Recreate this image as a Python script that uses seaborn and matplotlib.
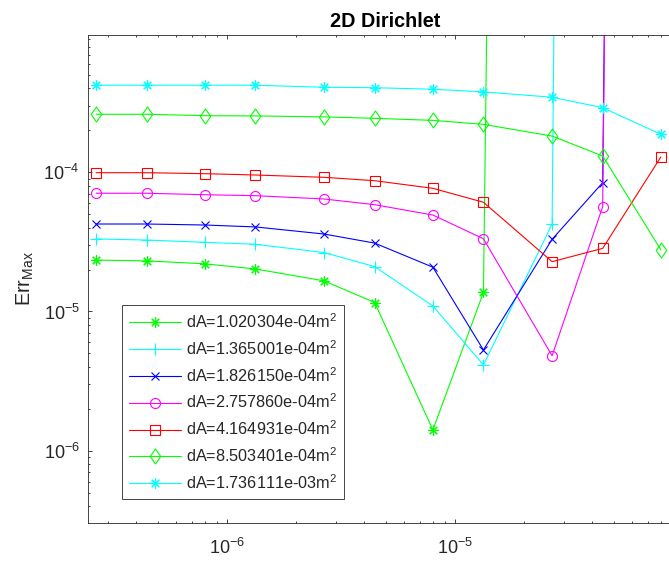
import numpy as np
import pandas as pd
import matplotlib
matplotlib.use("Agg")
import matplotlib.pyplot as plt
from matplotlib.path import Path
from matplotlib.ticker import LogLocator, NullFormatter, FixedLocator
import seaborn as sns

# Time step sizes (s)
dt = [2.667e-7, 4.444e-7, 8.0e-7, 1.333e-6, 2.667e-6, 4.444e-6,
      8.0e-6, 1.333e-5, 2.667e-5, 4.444e-5, 8.0e-5]

# Value recorded once a run has blown up
diverged = 1e35

# Maximum error per mesh size (runs stop after divergence)
err_1 = [2.34e-5, 2.31e-5, 2.20e-5, 2.02e-5, 1.66e-5, 1.16e-5, 1.41e-6, 1.37e-5, diverged]
err_2 = [3.32e-5, 3.26e-5, 3.14e-5, 3.04e-5, 2.65e-5, 2.10e-5, 1.095e-5, 4.13e-6, 4.25e-5, diverged]
err_3 = [4.25e-5, 4.25e-5, 4.18e-5, 4.05e-5, 3.60e-5, 3.10e-5, 2.08e-5, 5.29e-6, 3.30e-5, 8.42e-5, diverged]
err_4 = [7.07e-5, 7.07e-5, 6.90e-5, 6.79e-5, 6.43e-5, 5.85e-5, 4.93e-5, 3.33e-5, 4.81e-6, 5.66e-5, diverged]
err_5 = [9.93e-5, 9.93e-5, 9.77e-5, 9.56e-5, 9.20e-5, 8.70e-5, 7.67e-5, 6.09e-5, 2.28e-5, 2.84e-5, 1.29e-4]
err_6 = [2.61e-4, 2.61e-4, 2.55e-4, 2.54e-4, 2.50e-4, 2.44e-4, 2.36e-4, 2.21e-4, 1.82e-4, 1.31e-4, 2.77e-5]
err_7 = [4.22e-4, 4.22e-4, 4.22e-4, 4.22e-4, 4.08e-4, 4.05e-4, 3.95e-4, 3.78e-4, 3.46e-4, 2.91e-4, 1.875e-4]

labels = [
    "dA=1.020304e-04m$^2$",
    "dA=1.365001e-04m$^2$",
    "dA=1.826150e-04m$^2$",
    "dA=2.757860e-04m$^2$",
    "dA=4.164931e-04m$^2$",
    "dA=8.503401e-04m$^2$",
    "dA=1.736111e-03m$^2$",
]
series = [err_1, err_2, err_3, err_4, err_5, err_6, err_7]

colors = ["#00ff00", "#00ffff", "#0000ff", "#ff00ff", "#ff0000", "#00ff00", "#00ffff"]
diamond = Path([(0, 1), (0.7, 0), (0, -1), (-0.7, 0), (0, 1)],
               [Path.MOVETO, Path.LINETO, Path.LINETO, Path.LINETO, Path.CLOSEPOLY])
markers = [(8, 2, 0), "+", "x", "o", "s", diamond, (8, 2, 0)]
msizes = [7.5, 8.0, 5.6, 7.2, 6.6, 10.8, 7.5]

sns.set_style("ticks")
ink = "#262626"
plt.rcParams.update({
    "font.family": ["Liberation Sans", "DejaVu Sans"],
    "mathtext.fontset": "custom",
    "mathtext.rm": "Liberation Sans",
    "mathtext.it": "Liberation Sans:italic",
    "mathtext.bf": "Liberation Sans:bold",
    "mathtext.default": "regular",
    "axes.unicode_minus": False,
})

fig = plt.figure(figsize=(6.69, 5.65), dpi=100)
ax = fig.add_axes([0.1315, 0.0749, 0.8894, 0.8632])
ax.set_xscale("log")
ax.set_yscale("log")

for err, lab, c, m, ms in zip(series, labels, colors, markers, msizes):
    df = pd.DataFrame({"dt": dt[:len(err)], "err": err})
    sns.lineplot(data=df, x="dt", y="err", ax=ax, color=c, marker=m,
                 markersize=ms, markeredgecolor=c, markerfacecolor="none",
                 markeredgewidth=0.8, linewidth=0.8, label=lab,
                 estimator=None, sort=False)

ax.set_xlim(2.457e-7, 1e-4)
ax.set_ylim(3.04e-7, 9.69e-4)

ax.xaxis.set_major_locator(FixedLocator([1e-6, 1e-5]))
ax.xaxis.set_minor_locator(LogLocator(base=10, subs=np.arange(2, 10)))
ax.yaxis.set_major_locator(LogLocator(base=10, numticks=10))
ax.yaxis.set_minor_locator(LogLocator(base=10, subs=np.arange(2, 10), numticks=20))
ax.xaxis.set_minor_formatter(NullFormatter())
ax.yaxis.set_minor_formatter(NullFormatter())

ax.tick_params(which="both", direction="in", top=True, right=True,
               color=ink, width=0.6, labelcolor=ink, labelsize=13)
ax.tick_params(axis="y", which="major", pad=6)
ax.tick_params(axis="x", which="major", pad=11)
ax.tick_params(which="major", length=3)
ax.tick_params(which="minor", length=1.7)
for sp in ax.spines.values():
    sp.set_color(ink)
    sp.set_linewidth(0.6)

ax.set_xlabel("")
ax.set_ylabel("Err$_{Max}$", fontsize=14.3, color=ink)
ax.yaxis.set_label_coords(-0.088, 0.5)
ax.set_title("2D Dirichlet", fontsize=14.3, fontweight="bold", color="black", pad=6)

leg = ax.legend(loc="upper left", bbox_to_anchor=(0.1819, 0.4602),
                bbox_transform=fig.transFigure, borderaxespad=0,
                fontsize=11.7, handlelength=3.2, handletextpad=0.3,
                borderpad=0.45, labelspacing=0.5, numpoints=1,
                frameon=True, fancybox=False, framealpha=1,
                edgecolor=ink)
leg.get_frame().set_linewidth(0.6)
for t in leg.get_texts():
    t.set_color(ink)

fig.savefig("out.png", dpi=100)
